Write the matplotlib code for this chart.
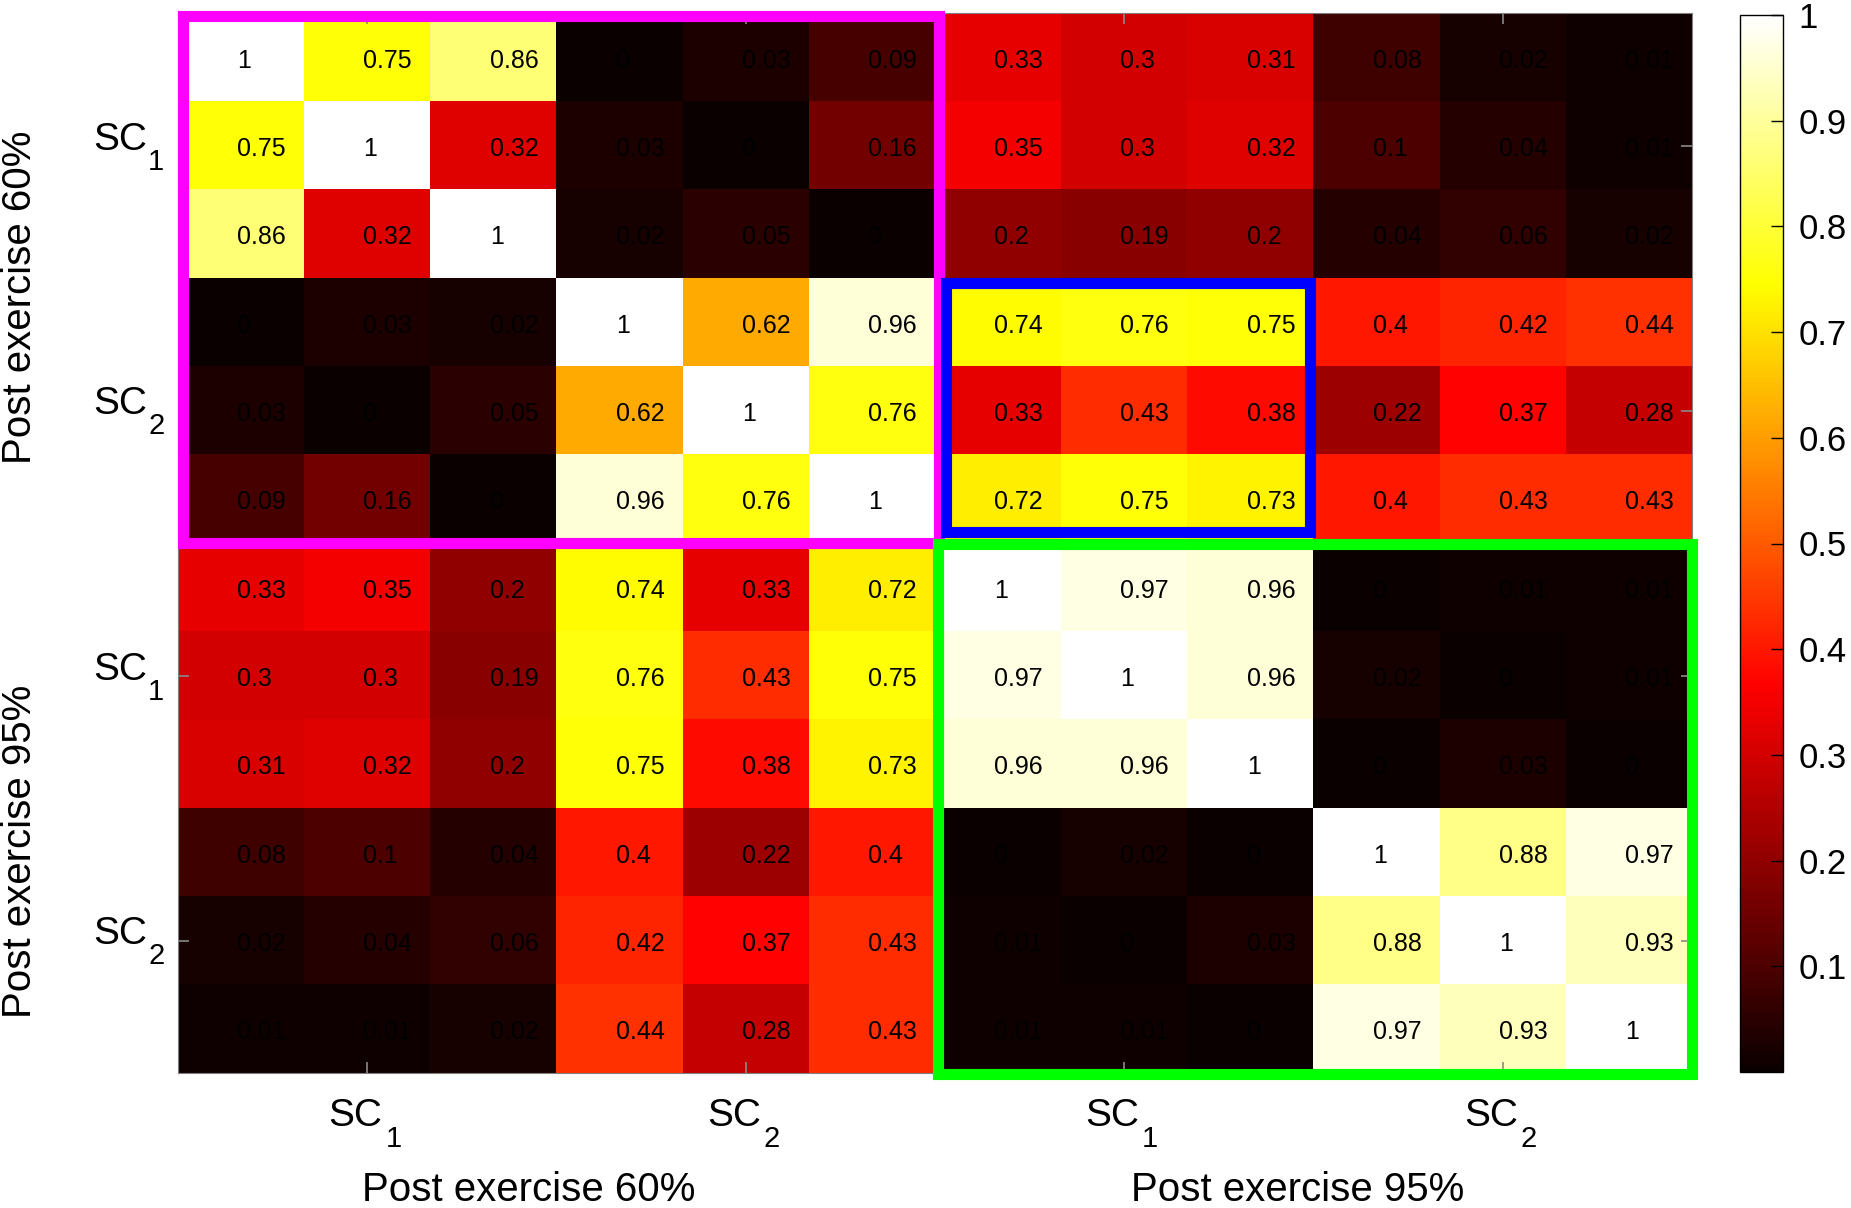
import numpy as np
import matplotlib
matplotlib.use("Agg")
import matplotlib.pyplot as plt
from matplotlib.patches import Rectangle

plt.rcParams['font.family'] = ['Liberation Sans', 'DejaVu Sans']

# ---------------- data ----------------
groups = ['Post exercise 60%', 'Post exercise 95%']
components = ['SC', 'SC']
subscripts = ['1', '2']
n_per_component = 3

corr = [
    [1.00, 0.75, 0.86, 0.00, 0.03, 0.09, 0.33, 0.30, 0.31, 0.08, 0.02, 0.01],
    [0.75, 1.00, 0.32, 0.03, 0.00, 0.16, 0.35, 0.30, 0.32, 0.10, 0.04, 0.01],
    [0.86, 0.32, 1.00, 0.02, 0.05, 0.00, 0.20, 0.19, 0.20, 0.04, 0.06, 0.02],
    [0.00, 0.03, 0.02, 1.00, 0.62, 0.96, 0.74, 0.76, 0.75, 0.40, 0.42, 0.44],
    [0.03, 0.00, 0.05, 0.62, 1.00, 0.76, 0.33, 0.43, 0.38, 0.22, 0.37, 0.28],
    [0.09, 0.16, 0.00, 0.96, 0.76, 1.00, 0.72, 0.75, 0.73, 0.40, 0.43, 0.43],
    [0.33, 0.35, 0.20, 0.74, 0.33, 0.72, 1.00, 0.97, 0.96, 0.00, 0.01, 0.01],
    [0.30, 0.30, 0.19, 0.76, 0.43, 0.75, 0.97, 1.00, 0.96, 0.02, 0.00, 0.01],
    [0.31, 0.32, 0.20, 0.75, 0.38, 0.73, 0.96, 0.96, 1.00, 0.00, 0.03, 0.00],
    [0.08, 0.10, 0.04, 0.40, 0.22, 0.40, 0.00, 0.02, 0.00, 1.00, 0.88, 0.97],
    [0.02, 0.04, 0.06, 0.42, 0.37, 0.43, 0.01, 0.00, 0.03, 0.88, 1.00, 0.93],
    [0.01, 0.01, 0.02, 0.44, 0.28, 0.43, 0.01, 0.01, 0.00, 0.97, 0.93, 1.00],
]
cbar_ticks = [0.1, 0.2, 0.3, 0.4, 0.5, 0.6, 0.7, 0.8, 0.9, 1.0]

# ---------------- figure ----------------
W, H = 1851, 1208
fig = plt.figure(figsize=(W / 100, H / 100), dpi=100)
ax = fig.add_axes([178 / W, 1 - 1073 / H, 1514 / W, 1060 / H])
cax = fig.add_axes([1740 / W, 1 - 1072 / H, 43 / W, 1057 / H])

M = np.array(corr)
n = M.shape[0]
im = ax.imshow(M, cmap='hot', vmin=0, vmax=1, aspect='auto',
               interpolation='nearest')

for i in range(n):
    for j in range(n):
        ax.text(j - 0.03, i + 0.04, f"{M[i, j]:g}", ha='left', va='center',
                fontsize=18, color='black')

# ticks at component centres
block = n_per_component
centers = [g * len(components) * block + c * block + 1
           for g in range(len(groups)) for c in range(len(components))]
ax.set_xticks(centers)
ax.set_yticks(centers)
ax.set_xticklabels([])
ax.set_yticklabels([])
ax.tick_params(axis='both', direction='in', length=8, width=1.2,
               color='#8a8a8a', top=True, right=True)
for sp in ax.spines.values():
    sp.set_color('#808080')
    sp.set_linewidth(0.8)

# SC labels with subscripts
k = 0
for g in range(len(groups)):
    for c in range(len(components)):
        pos = centers[k]
        # y-axis
        ax.annotate(components[c], xy=(0, pos), xycoords=('axes fraction', 'data'),
                    xytext=(-31, -4), textcoords='offset pixels',
                    ha='right', va='baseline', fontsize=28, annotation_clip=False)
        ax.annotate(subscripts[c], xy=(0, pos), xycoords=('axes fraction', 'data'),
                    xytext=(-30, -24), textcoords='offset pixels',
                    ha='left', va='baseline', fontsize=21, annotation_clip=False)
        # x-axis
        ax.annotate(components[c], xy=(pos, 0), xycoords=('data', 'axes fraction'),
                    xytext=(15, -53), textcoords='offset pixels',
                    ha='right', va='baseline', fontsize=28, annotation_clip=False)
        ax.annotate(subscripts[c], xy=(pos, 0), xycoords=('data', 'axes fraction'),
                    xytext=(18, -74), textcoords='offset pixels',
                    ha='left', va='baseline', fontsize=21, annotation_clip=False)
        k += 1

# group labels
gsize = len(components) * block
xoffs = [-28, -16]
yoffs = [-19, -43]
for g, name in enumerate(groups):
    gc = g * gsize + (gsize - 1) / 2
    ax.annotate(name, xy=(gc, 0), xycoords=('data', 'axes fraction'),
                xytext=(xoffs[g], -128), textcoords='offset pixels',
                ha='center', va='baseline', fontsize=29, annotation_clip=False)
    ax.annotate(name, xy=(0, gc), xycoords=('axes fraction', 'data'),
                xytext=(-158, yoffs[g]), textcoords='offset pixels',
                ha='center', va='center', rotation=90, fontsize=29,
                annotation_clip=False)

# highlight boxes (x0, y0, x1, y1) in cell coordinates
boxes = [
    ((-0.46, -0.47, 5.53, 5.50), '#ff00ff'),
    ((5.52, 5.51, 11.50, 11.51), '#00ff00'),
    ((5.59, 2.56, 8.47, 5.38), '#0000ff'),
]
for (x0, y0, x1, y1), col in boxes:
    ax.add_patch(Rectangle((x0, y0), x1 - x0, y1 - y0, fill=False,
                           edgecolor=col, linewidth=8, clip_on=False,
                           joinstyle='miter', zorder=5))

ax.set_xlim(-0.5, n - 0.5)
ax.set_ylim(n - 0.5, -0.5)

cb = fig.colorbar(im, cax=cax, ticks=cbar_ticks)
cb.ax.set_yticklabels([f"{t:g}" for t in cbar_ticks])
cb.ax.tick_params(direction='in', length=9, width=1, labelsize=25, pad=11,
                  color='black')
cb.outline.set_linewidth(1)
cb.outline.set_edgecolor('black')

fig.savefig('out.png', dpi=100, facecolor='white')
